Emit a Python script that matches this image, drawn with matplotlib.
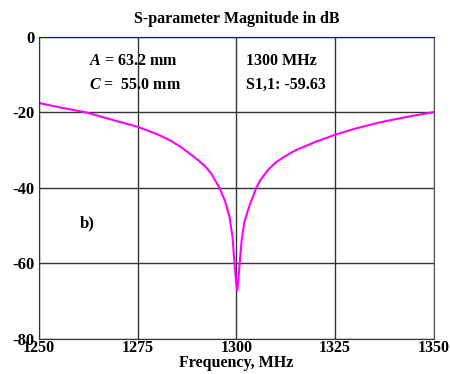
import matplotlib.pyplot as plt

plt.rcParams['font.family'] = ['Liberation Serif', 'DejaVu Serif']
plt.rcParams['mathtext.fontset'] = 'custom'
plt.rcParams['mathtext.rm'] = 'Liberation Serif:bold'
plt.rcParams['mathtext.it'] = 'Liberation Serif:italic:bold'
plt.rcParams['mathtext.bf'] = 'Liberation Serif:bold'

# frequency (MHz) and S1,1 magnitude (dB)
freq = [1250, 1255, 1262, 1268, 1275, 1280, 1283, 1286, 1290, 1292, 1293.6,
        1295.7, 1297, 1298.2, 1299, 1299.5, 1300.0, 1300.2, 1300.5, 1300.8,
        1301.3, 1302, 1303, 1303.7, 1305, 1306, 1307, 1308, 1310, 1312, 1315,
        1320, 1325, 1330, 1336, 1343, 1350]
s11 = [-17.5, -18.6, -20.0, -21.8, -23.8, -25.8, -27.3, -29.2, -32.4, -34.2, -36.2,
       -40.0, -43.2, -47.5, -53.0, -60.0, -66.0, -67.2, -64.0, -60.0,
       -54.0, -49.0, -45.6, -43.6, -40.0, -38.0, -36.6, -35.2, -33.2, -31.8, -30.0,
       -27.8, -25.9, -24.3, -22.7, -21.2, -19.9]

xticks = [1250, 1275, 1300, 1325, 1350]
yticks = [0, -20, -40, -60, -80]

fig = plt.figure(figsize=(4.5, 3.74), dpi=100)
ax = fig.add_axes([0.087, 0.094, 0.877, 0.807])

ax.plot(freq, s11, color='#ff00ff', linewidth=1.5)
ax.set_xlim(1250, 1350)
ax.set_ylim(-80, 0)
ax.set_xticks(xticks)
ax.set_yticks(yticks)
ax.set_xticklabels([str(t) for t in xticks], fontweight='bold', fontsize=11.5)
ax.set_yticklabels([str(t) for t in yticks], fontweight='bold', fontsize=12)
ax.tick_params(axis='x', length=0, pad=1)
ax.tick_params(axis='y', length=0, pad=3)
ax.grid(True, color='#333333', linewidth=1)

for s in ['left', 'bottom']:
    ax.spines[s].set_color('#333333')
ax.spines['right'].set_color('#555555')
ax.spines['top'].set_color('#0000ff')

ax.set_title('S-parameter Magnitude in dB', fontweight='bold', fontsize=11.5, pad=10)
ax.set_xlabel('Frequency, MHz', fontweight='bold', fontsize=11.5, labelpad=-1)

ax.text(1262.7, -6.3, r'$\it{A}$ = 63.2 mm', fontsize=11.5, fontweight='bold', va='center')
ax.text(1262.7, -12.8, r'$\it{C}$ =  55.0 mm', fontsize=11.5, fontweight='bold', va='center')
ax.text(1302.3, -6.3, '1300 MHz', fontsize=11.5, fontweight='bold', va='center')
ax.text(1302.3, -12.8, 'S1,1: -59.63', fontsize=11.5, fontweight='bold', va='center')
ax.text(1260.3, -49.5, 'b)', fontsize=12, fontweight='bold', va='center')

fig.savefig('out.png', dpi=100)
